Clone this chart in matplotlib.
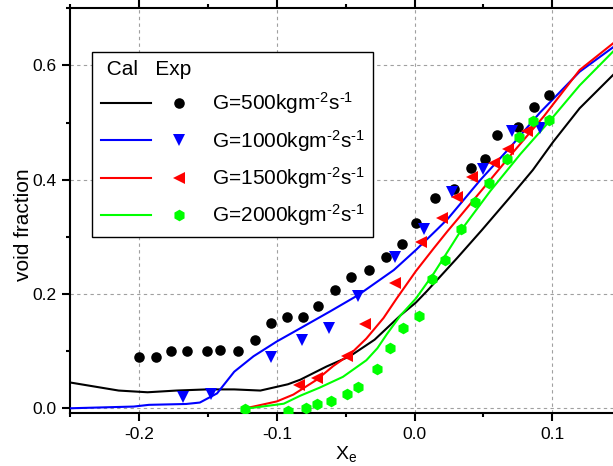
import matplotlib
matplotlib.use("Agg")
import matplotlib.pyplot as plt
from matplotlib.ticker import MultipleLocator, FormatStrFormatter
from matplotlib.legend_handler import HandlerTuple

plt.rcParams["font.family"] = ["Liberation Sans", "DejaVu Sans"]
plt.rcParams["mathtext.fontset"] = "custom"
plt.rcParams["mathtext.rm"] = "Liberation Sans"
plt.rcParams["mathtext.it"] = "Liberation Sans:italic"
plt.rcParams["mathtext.default"] = "regular"
plt.rcParams["axes.unicode_minus"] = False

# ---- calculated void fraction (lines) ----
x_cal_500 = [-0.250, -0.215, -0.194, -0.173, -0.151, -0.131, -0.112, -0.092, -0.083,
             -0.064, -0.047, -0.029, -0.010, 0.001, 0.009, 0.031, 0.049, 0.070, 0.086,
             0.101, 0.120, 0.145]
y_cal_500 = [0.045, 0.031, 0.028, 0.031, 0.033, 0.033, 0.031, 0.042, 0.050,
             0.073, 0.091, 0.120, 0.163, 0.185, 0.205, 0.263, 0.312, 0.371, 0.417,
             0.467, 0.525, 0.585]

x_cal_1000 = [-0.250, -0.204, -0.193, -0.166, -0.156, -0.1435, -0.131, -0.117, -0.100,
              -0.083, -0.061, -0.041, -0.015, 0.001, 0.016, 0.024, 0.048, 0.070, 0.091,
              0.120, 0.145]
y_cal_1000 = [0.000, 0.003, 0.006, 0.0075, 0.010, 0.026, 0.064, 0.091, 0.117,
              0.140, 0.170, 0.198, 0.242, 0.277, 0.312, 0.331, 0.400, 0.458, 0.517,
              0.589, 0.633]

x_cal_1500 = [-0.123, -0.117, -0.100, -0.088, -0.071, -0.059, -0.047, -0.035, -0.0225,
              -0.013, 0.001, 0.014, 0.024, 0.031, 0.050, 0.072, 0.094, 0.120, 0.145]
y_cal_1500 = [0.000, 0.003, 0.012, 0.024, 0.050, 0.074, 0.094, 0.122, 0.158,
              0.192, 0.240, 0.280, 0.310, 0.330, 0.385, 0.449, 0.511, 0.592, 0.640]

x_cal_2000 = [-0.123, -0.117, -0.095, -0.083, -0.069, -0.052, -0.035, -0.027, -0.020,
              -0.010, 0.001, 0.014, 0.028, 0.034, 0.055, 0.077, 0.099, 0.120, 0.145]
y_cal_2000 = [0.000, 0.001, 0.008, 0.022, 0.036, 0.055, 0.084, 0.105, 0.130,
              0.163, 0.192, 0.236, 0.289, 0.312, 0.380, 0.445, 0.505, 0.565, 0.626]

# ---- measured void fraction (symbols) ----
x_exp_500 = [-0.200, -0.188, -0.177, -0.165, -0.151, -0.141, -0.128, -0.116, -0.104,
             -0.093, -0.081, -0.070, -0.058, -0.046, -0.033, -0.021, -0.009, 0.001,
             0.015, 0.029, 0.041, 0.051, 0.060, 0.075, 0.087, 0.098]
y_exp_500 = [0.089, 0.090, 0.100, 0.100, 0.100, 0.102, 0.100, 0.119, 0.149,
             0.160, 0.160, 0.179, 0.207, 0.230, 0.242, 0.265, 0.288, 0.325,
             0.368, 0.384, 0.420, 0.436, 0.479, 0.492, 0.527, 0.548]

x_exp_1000 = [-0.168, -0.148, -0.104, -0.082, -0.062, -0.041, -0.014, 0.007, 0.027,
              0.050, 0.071, 0.091]
y_exp_1000 = [0.019, 0.025, 0.090, 0.119, 0.141, 0.197, 0.264, 0.314, 0.379,
              0.419, 0.485, 0.491]

x_exp_1500 = [-0.084, -0.071, -0.049, -0.036, -0.014, 0.005, 0.020, 0.031, 0.042,
              0.058, 0.068, 0.082]
y_exp_1500 = [0.040, 0.053, 0.092, 0.148, 0.219, 0.291, 0.333, 0.370, 0.404,
              0.429, 0.454, 0.486]

x_exp_2000 = [-0.123, -0.092, -0.079, -0.071, -0.061, -0.049, -0.041, -0.027, -0.018,
              -0.008, 0.003, 0.013, 0.022, 0.034, 0.044, 0.054, 0.067, 0.076, 0.086,
              0.098]
y_exp_2000 = [-0.002, -0.004, 0.001, 0.008, 0.012, 0.025, 0.037, 0.069, 0.106,
              0.140, 0.162, 0.226, 0.260, 0.313, 0.361, 0.395, 0.437, 0.474, 0.502,
              0.504]

mass_flux = ["500", "1000", "1500", "2000"]
colors = ["black", "#0000ff", "#ff0000", "#00ff00"]
markers = ["o", "v", "<", "h"]
marker_sizes = [7.6, 8.0, 8.0, 8.4]

cal_x = [x_cal_500, x_cal_1000, x_cal_1500, x_cal_2000]
cal_y = [y_cal_500, y_cal_1000, y_cal_1500, y_cal_2000]
exp_x = [x_exp_500, x_exp_1000, x_exp_1500, x_exp_2000]
exp_y = [y_exp_500, y_exp_1000, y_exp_1500, y_exp_2000]

fig = plt.figure(figsize=(6.13, 4.66), dpi=100)
ax = fig.add_axes([0.1150, 0.1131, 0.8979, 0.8691])

handles = []
labels = []
for G, c, m, ms, xc, yc, xe, ye in zip(mass_flux, colors, markers, marker_sizes,
                                        cal_x, cal_y, exp_x, exp_y):
    line, = ax.plot(xc, yc, color=c, lw=1.5, zorder=3)
    pts, = ax.plot(xe, ye, linestyle="none", marker=m, color=c, markersize=ms,
                   markeredgewidth=0, zorder=4)
    handles.append((line, pts))
    labels.append(r"G=%skgm$^{\text{-2}}$s$^{\text{-1}}$" % G)

ax.set_xlim(-0.25, 0.15)
ax.set_ylim(-0.0088, 0.70)

ax.xaxis.set_major_locator(MultipleLocator(0.1))
ax.xaxis.set_minor_locator(MultipleLocator(0.05))
ax.yaxis.set_major_locator(MultipleLocator(0.2))
ax.yaxis.set_minor_locator(MultipleLocator(0.1))
ax.xaxis.set_major_formatter(FormatStrFormatter("%.1f"))
ax.yaxis.set_major_formatter(FormatStrFormatter("%.1f"))

ax.grid(True, which="major", color="#a0a0a0", linestyle=(0, (3, 3)), linewidth=0.8)
ax.set_axisbelow(True)

for side in ["left", "bottom", "top"]:
    ax.spines[side].set_linewidth(1.5)
ax.spines["right"].set_visible(False)

ax.tick_params(which="both", direction="out", top=True, right=False,
               labeltop=False, width=1.5, labelsize=12.5)
ax.tick_params(which="major", length=6, pad=4)
ax.tick_params(which="minor", length=3)

ax.set_xlabel(r"X$_e$", fontsize=14)
ax.set_ylabel("void fraction", fontsize=15)
ax.xaxis.set_label_coords(0.5, -0.075)
ax.yaxis.set_label_coords(-0.068, 0.466)

leg = ax.legend(handles, labels,
                handler_map={tuple: HandlerTuple(ndivide=None, pad=0.14)},
                loc="upper left", bbox_to_anchor=(0.0396, 0.893),
                borderaxespad=0, borderpad=0.4, fontsize=15,
                title=" Cal   Exp", title_fontsize=15, alignment="left",
                handlelength=5.0, handletextpad=0.35, labelspacing=0.55,
                fancybox=False, framealpha=1, edgecolor="black")
leg.get_frame().set_linewidth(1.0)
leg.set_zorder(5)

fig.savefig("out.png", dpi=100)
